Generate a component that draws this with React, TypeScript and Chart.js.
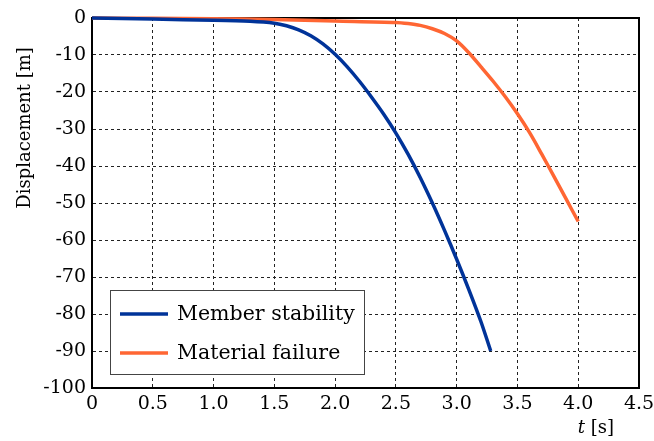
import React, { useEffect, useRef } from "react";
import { Chart, registerables } from "chart.js";

Chart.register(...registerables);

const seriesLabels = ["Member stability", "Material failure"];
const seriesColors = ["#003399", "#FF6633"];

const tBlue = [0, 0.5, 1.0, 1.3, 1.5, 1.6, 1.7, 1.8, 1.9, 2.0, 2.1, 2.2, 2.3, 2.4, 2.5, 2.6, 2.7, 2.8, 2.9, 3.0, 3.1, 3.2, 3.28];
const dispBlue = [0, -0.3, -0.6, -0.9, -1.4, -2.1, -3.2, -4.8, -7.0, -9.8, -13.2, -17.1, -21.4, -26, -31.1, -36.8, -43.1, -50, -57.4, -65.2, -73.4, -82.1, -90];

const tOrange = [0, 0.5, 1.0, 1.5, 2.0, 2.5, 2.6, 2.7, 2.8, 2.9, 3.0, 3.1, 3.2, 3.3, 3.4, 3.5, 3.6, 3.7, 3.8, 3.9, 4.0];
const dispOrange = [0, -0.1, -0.2, -0.4, -0.8, -1.2, -1.5, -2.0, -2.9, -4.2, -6.2, -9.4, -13.2, -17.1, -21.3, -25.9, -31, -36.8, -42.8, -48.9, -55];

const xMin = 0;
const xMax = 4.5;
const xStep = 0.5;
const yMin = -100;
const yMax = 0;
const yStep = 10;

const SERIF = "'DejaVu Serif', serif";

const framePlugin = {
  id: "frame",
  beforeDatasetsDraw(chart: any) {
    const { ctx, chartArea } = chart;
    ctx.save();
    ctx.strokeStyle = "#000";
    ctx.lineWidth = 2;
    ctx.strokeRect(chartArea.left, chartArea.top, chartArea.right - chartArea.left, chartArea.bottom - chartArea.top);
    ctx.restore();
  },
  afterDraw(chart: any) {
    const { ctx, chartArea } = chart;
    ctx.save();
    const lx = chartArea.left + 18;
    const ly = chartArea.bottom - 98;
    const lw = 254;
    const lh = 84;
    ctx.fillStyle = "#fff";
    ctx.fillRect(lx, ly, lw, lh);
    ctx.strokeStyle = "#444";
    ctx.lineWidth = 1;
    ctx.strokeRect(lx + 0.5, ly + 0.5, lw, lh);
    const rows = [ly + 24, ly + 63];
    chart.data.datasets.forEach((ds: any, i: number) => {
      ctx.strokeStyle = ds.borderColor;
      ctx.lineWidth = 3.5;
      ctx.beginPath();
      ctx.moveTo(lx + 10, rows[i]);
      ctx.lineTo(lx + 58, rows[i]);
      ctx.stroke();
      ctx.fillStyle = "#000";
      ctx.font = `20.5px ${SERIF}`;
      ctx.textAlign = "left";
      ctx.textBaseline = "middle";
      ctx.fillText(ds.label, lx + 67, rows[i] + 1);
    });
    ctx.save();
    ctx.translate(25, 128);
    ctx.rotate(-Math.PI / 2);
    ctx.fillStyle = "#000";
    ctx.font = `18px ${SERIF}`;
    ctx.textAlign = "center";
    ctx.textBaseline = "middle";
    ctx.fillText("Displacement [m]", 0, 0);
    ctx.restore();
    ctx.fillStyle = "#000";
    ctx.textBaseline = "middle";
    ctx.textAlign = "left";
    ctx.font = `italic 18px ${SERIF}`;
    const tw = ctx.measureText("t").width;
    ctx.font = `18px ${SERIF}`;
    const sw = ctx.measureText(" [s]").width;
    const endX = 614;
    const startX = endX - tw - sw;
    ctx.font = `italic 18px ${SERIF}`;
    ctx.fillText("t", startX, 428);
    ctx.font = `18px ${SERIF}`;
    ctx.fillText(" [s]", startX + tw, 428);
    ctx.restore();
  },
};

export default function App() {
  const canvasRef = useRef<HTMLCanvasElement | null>(null);

  useEffect(() => {
    document.body.style.margin = "0";
    const canvas = canvasRef.current;
    if (!canvas) return;
    const chart = new Chart(canvas, {
      type: "line",
      data: {
        datasets: [
          {
            label: seriesLabels[0],
            data: tBlue.map((t, i) => ({ x: t, y: dispBlue[i] })),
            borderColor: seriesColors[0],
            backgroundColor: seriesColors[0],
            borderWidth: 3.5,
            pointRadius: 0,
            tension: 0.3,
            clip: 4,
          },
          {
            label: seriesLabels[1],
            data: tOrange.map((t, i) => ({ x: t, y: dispOrange[i] })),
            borderColor: seriesColors[1],
            backgroundColor: seriesColors[1],
            borderWidth: 3.5,
            pointRadius: 0,
            tension: 0.3,
            clip: 4,
          },
        ],
      },
      options: {
        animation: false,
        responsive: false,
        maintainAspectRatio: false,
        layout: { padding: { top: 18, right: 15, left: 0, bottom: 0 } },
        plugins: {
          legend: { display: false },
          tooltip: { enabled: false },
        },
        scales: {
          x: {
            type: "linear",
            min: xMin,
            max: xMax,
            afterFit(scale: any) {
              scale.height = 441 - 388;
              scale.paddingLeft = 0;
              scale.paddingRight = 0;
            },
            afterBuildTicks(scale: any) {
              const ticks = [];
              for (let v = xMin; v <= xMax + 1e-9; v += xStep) ticks.push({ value: Math.round(v * 10) / 10 });
              scale.ticks = ticks;
            },
            ticks: {
              color: "#000",
              padding: 5,
              font: { family: SERIF, size: 19 },
              maxRotation: 0,
              callback: (v: any) => (Number(v) === 0 ? "0" : Number(v).toFixed(1)),
            },
            grid: { color: "#222", lineWidth: 1, drawTicks: false, tickLength: 0 },
            border: { display: true, color: "#000", width: 2, dash: [3, 3] },
          },
          y: {
            type: "linear",
            min: yMin,
            max: yMax,
            afterFit(scale: any) {
              scale.width = 92;
              scale.paddingTop = 0;
              scale.paddingBottom = 0;
            },
            afterBuildTicks(scale: any) {
              const ticks = [];
              for (let v = yMin; v <= yMax; v += yStep) ticks.push({ value: v });
              scale.ticks = ticks;
            },
            ticks: {
              color: "#000",
              padding: 6,
              font: { family: SERIF, size: 19 },
              callback: (v: any) => (Number(v) === 0 ? "0" : String(v)),
            },
            grid: { color: "#222", lineWidth: 1, drawTicks: false, tickLength: 0 },
            border: { display: true, color: "#000", width: 2, dash: [3, 3] },
          },
        },
      } as any,
      plugins: [framePlugin],
    });
    return () => chart.destroy();
  }, []);

  return (
    <div style={{ position: "fixed", left: 0, top: 0, width: 654, height: 441 }}>
      <canvas ref={canvasRef} width={654} height={441} style={{ width: 654, height: 441 }} />
    </div>
  );
}
